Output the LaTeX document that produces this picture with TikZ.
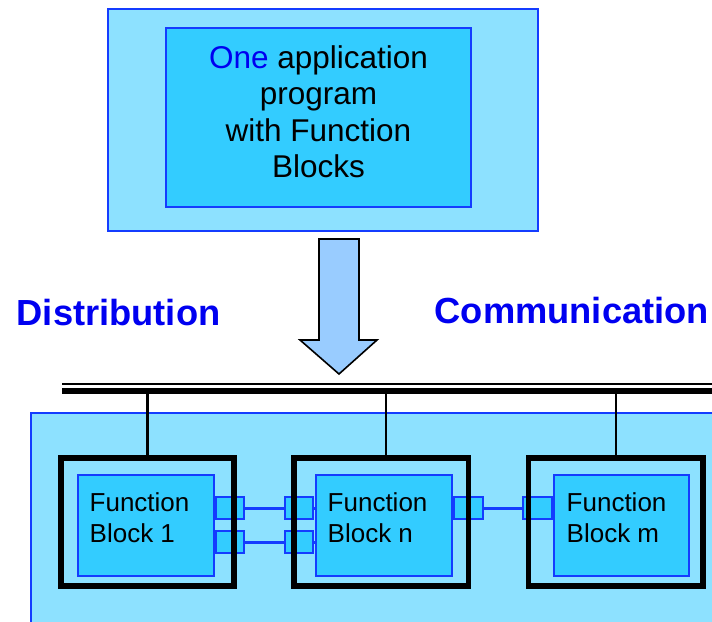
\documentclass[tikz,border=0pt]{standalone}
\usepackage{fontspec}
\setmainfont{Liberation Sans}
\definecolor{lightcyan}{RGB}{141,225,255}
\definecolor{midcyan}{RGB}{51,204,255}
\definecolor{fbblue}{RGB}{20,60,255}
\definecolor{arrowblue}{RGB}{153,204,255}
\definecolor{textblue}{RGB}{0,0,240}
\begin{document}
\begin{tikzpicture}[x=1pt,y=-1pt,
  panel/.style={draw=fbblue, fill=lightcyan, line width=1.6pt, inner sep=0pt, outer sep=0pt},
  core/.style={draw=fbblue, fill=midcyan, line width=1.5pt, inner sep=0pt, outer sep=0pt, minimum height=101pt},
  device/.style={draw=black, line width=5.5pt, inner sep=0pt, outer sep=0pt, minimum height=128pt},
  port/.style={draw=fbblue, fill=midcyan, line width=2pt, minimum width=28pt, minimum height=22pt, inner sep=0pt},
  link/.style={draw=fbblue, line width=3pt},
  drop/.style={line width=2.2pt},
  fblabel/.style={font=\fontsize{26}{31}\selectfont, align=left, anchor=north west, inner sep=0pt},
  headline/.style={font=\bfseries\fontsize{36.3}{40}\selectfont, text=textblue, anchor=base west, inner sep=0pt}]
\useasboundingbox (0,0) rectangle (712,621);
\clip (0,0) rectangle (712,621);

% top program box
\node[panel, line width=2.8pt, minimum width=430pt, minimum height=222pt] (prog) at (323,120) {};
\node[core, minimum width=305pt, minimum height=179pt] (app) at (318.5,117.5) {};
\node[font=\fontsize{31.5}{36.5}\selectfont, align=center, anchor=north, inner sep=0pt] (apptext) at (318.5,45) {\textcolor{textblue}{One} application\\program\\with Function\\Blocks};

% distribution arrow
\draw[line width=1.6pt, fill=arrowblue, line join=miter] (319,239) -- (359,239) -- (359,340) -- (377,340) -- (339,374) -- (300,340) -- (319,340) -- cycle;

% headlines
\node[headline] (dist) at (16.5,325) {Distribution};
\node[headline] (comm) at (434.5,323) {Communication};

% bus
\coordinate (busL) at (62,391);
\coordinate (busR) at (712,391);
\coordinate (thinL) at (62,383.5);
\coordinate (thinR) at (712,383.5);
\draw[line width=6.5pt] (busL) -- (busR);
\draw[line width=2pt] (thinL) -- (thinR);

% field panel
\node[panel, anchor=north west, minimum width=700pt, minimum height=230pt] (field) at (31,412.7) {};

% function blocks
\node[core, minimum width=136pt] (fb1) at (146,525.5) {};
\node[core, minimum width=136pt] (fbn) at (384,525.5) {};
\node[core, minimum width=135pt] (fbm) at (621.5,525.5) {};
\node[fblabel] (fb1t) at ([shift={(11.5pt,-17pt)}]fb1.north west) {Function\\Block 1};
\node[fblabel] (fbnt) at ([shift={(11.5pt,-17pt)}]fbn.north west) {Function\\Block n};
\node[fblabel] (fbmt) at ([shift={(12.5pt,-17pt)}]fbm.north west) {Function\\Block m};

% port positions
\coordinate (c1a) at (230,508);
\coordinate (c1b) at (230,542);
\coordinate (cna) at (298.5,508);
\coordinate (cnb) at (298.5,542);
\coordinate (cnr) at (468.5,508);
\coordinate (cm) at (537.5,508);

% links
\draw[link] (c1a -| fb1.east) -- (c1a -| fbn.west);
\draw[link] (c1b -| fb1.east) -- (c1b -| fbn.west);
\draw[link] (cnr -| fbn.east) -- (cnr -| fbm.west);

% ports
\node[port] (p1a) at (c1a) {};
\node[port] (p1b) at (c1b) {};
\node[port] (pna) at (cna) {};
\node[port] (pnb) at (cnb) {};
\node[port, minimum width=29pt] (pnr) at (cnr) {};
\node[port, minimum width=29pt] (pm) at (cm) {};

% devices
\node[device, minimum width=173pt] (dev1) at (147.5,521.75) {};
\node[device, minimum width=174.5pt] (devn) at (381.25,521.75) {};
\node[device, minimum width=174.3pt] (devm) at (615.85,521.75) {};

% drops
\draw[drop] (dev1.north) -- (dev1.north |- busL);
\draw[drop] ([xshift=4.75pt]devn.north) -- ([xshift=4.75pt]devn.north |- busL);
\draw[drop] (devm.north) -- (devm.north |- busL);
\end{tikzpicture}
\end{document}
